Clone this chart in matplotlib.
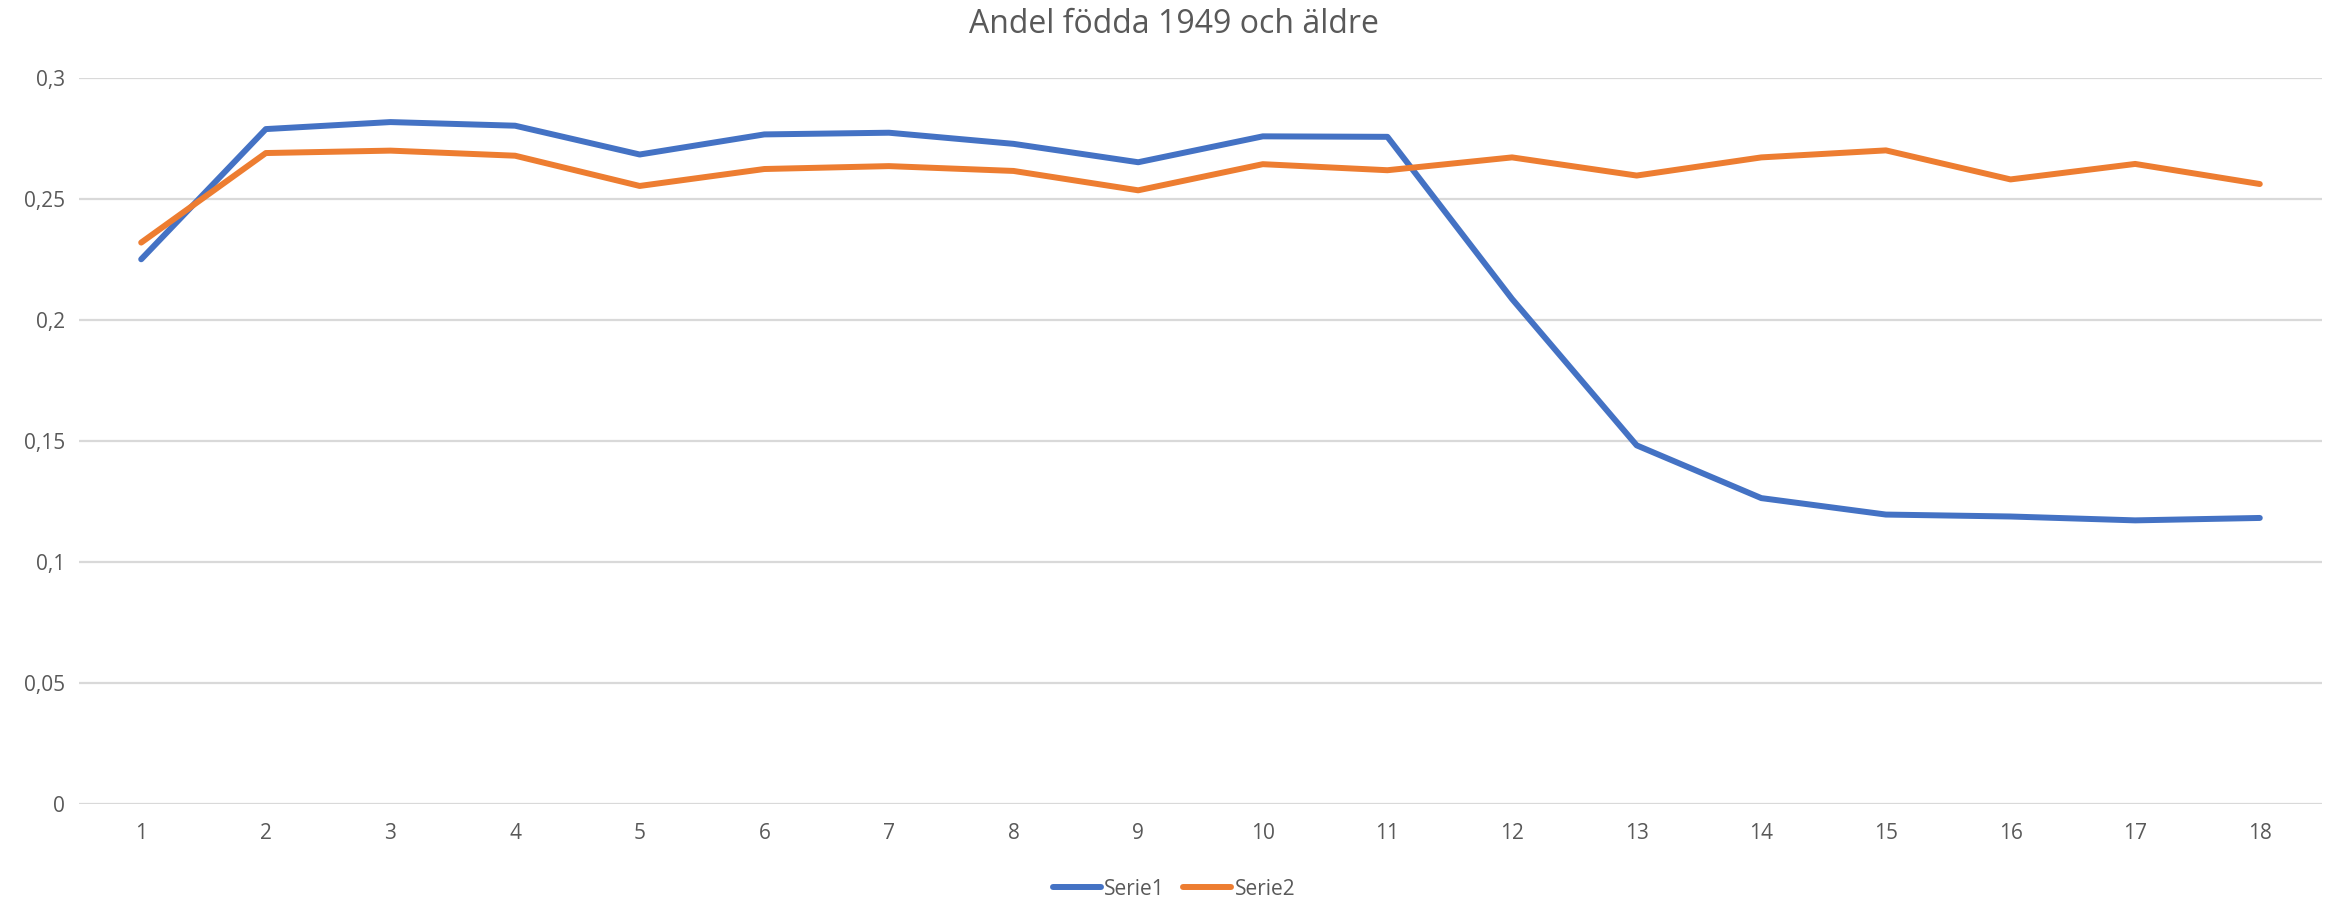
#!/usr/bin/env python
"""
Andel födda 1949 och äldre - two line series
"""
import matplotlib
matplotlib.use('Agg')
import matplotlib.pyplot as plt

plt.rcParams['font.family'] = ['Liberation Sans Narrow', 'Open Sans', 'DejaVu Sans']

# data
categories = list(range(1, 19))
serie1 = [0.2251, 0.2789, 0.2818, 0.2803, 0.2684, 0.2767, 0.2774, 0.2728, 0.2652,
          0.2759, 0.2757, 0.2087, 0.1482, 0.1264, 0.1196, 0.1188, 0.1172, 0.1182]
serie2 = [0.2320, 0.2690, 0.2700, 0.2679, 0.2554, 0.2624, 0.2636, 0.2616, 0.2536,
          0.2644, 0.2619, 0.2672, 0.2597, 0.2672, 0.2701, 0.2581, 0.2645, 0.2562]
yticks = [0, 0.05, 0.1, 0.15, 0.2, 0.25, 0.3]
title = 'Andel födda 1949 och äldre'

text_color = '#595959'
fig = plt.figure(figsize=(23.34, 9), dpi=100)
ax = fig.add_axes([0.0338, 0.1067, 0.9611, 0.8066])

ax.plot(categories, serie1, color='#4472C4', lw=4.3, label='Serie1',
        solid_capstyle='round', solid_joinstyle='round', zorder=3)
ax.plot(categories, serie2, color='#ED7D31', lw=4.3, label='Serie2',
        solid_capstyle='round', solid_joinstyle='round', zorder=3)

ax.set_xlim(0.5, 18.5)
ax.set_ylim(0, 0.3)
ax.set_yticks(yticks)
ax.set_yticklabels([('%g' % v).replace('.', ',') for v in yticks])
ax.set_xticks(categories)
ax.set_xticklabels([str(c) for c in categories])
ax.tick_params(length=0, labelsize=15, labelcolor=text_color)
ax.tick_params(axis='x', pad=14)
ax.tick_params(axis='y', pad=10)

ax.grid(axis='y', color='#D9D9D9', lw=1.6, zorder=0)
for s in ax.spines.values():
  s.set_visible(False)

fig.text(0.503, 0.973, title, ha='center', va='center', fontsize=23, color=text_color)

leg = fig.legend(loc='center', bbox_to_anchor=(0.503, 0.012), ncol=2, frameon=False,
                 fontsize=15, handlelength=2.3, columnspacing=0.9, handletextpad=0.15,
                 labelcolor=text_color)

plt.savefig('out.png', dpi=100)
